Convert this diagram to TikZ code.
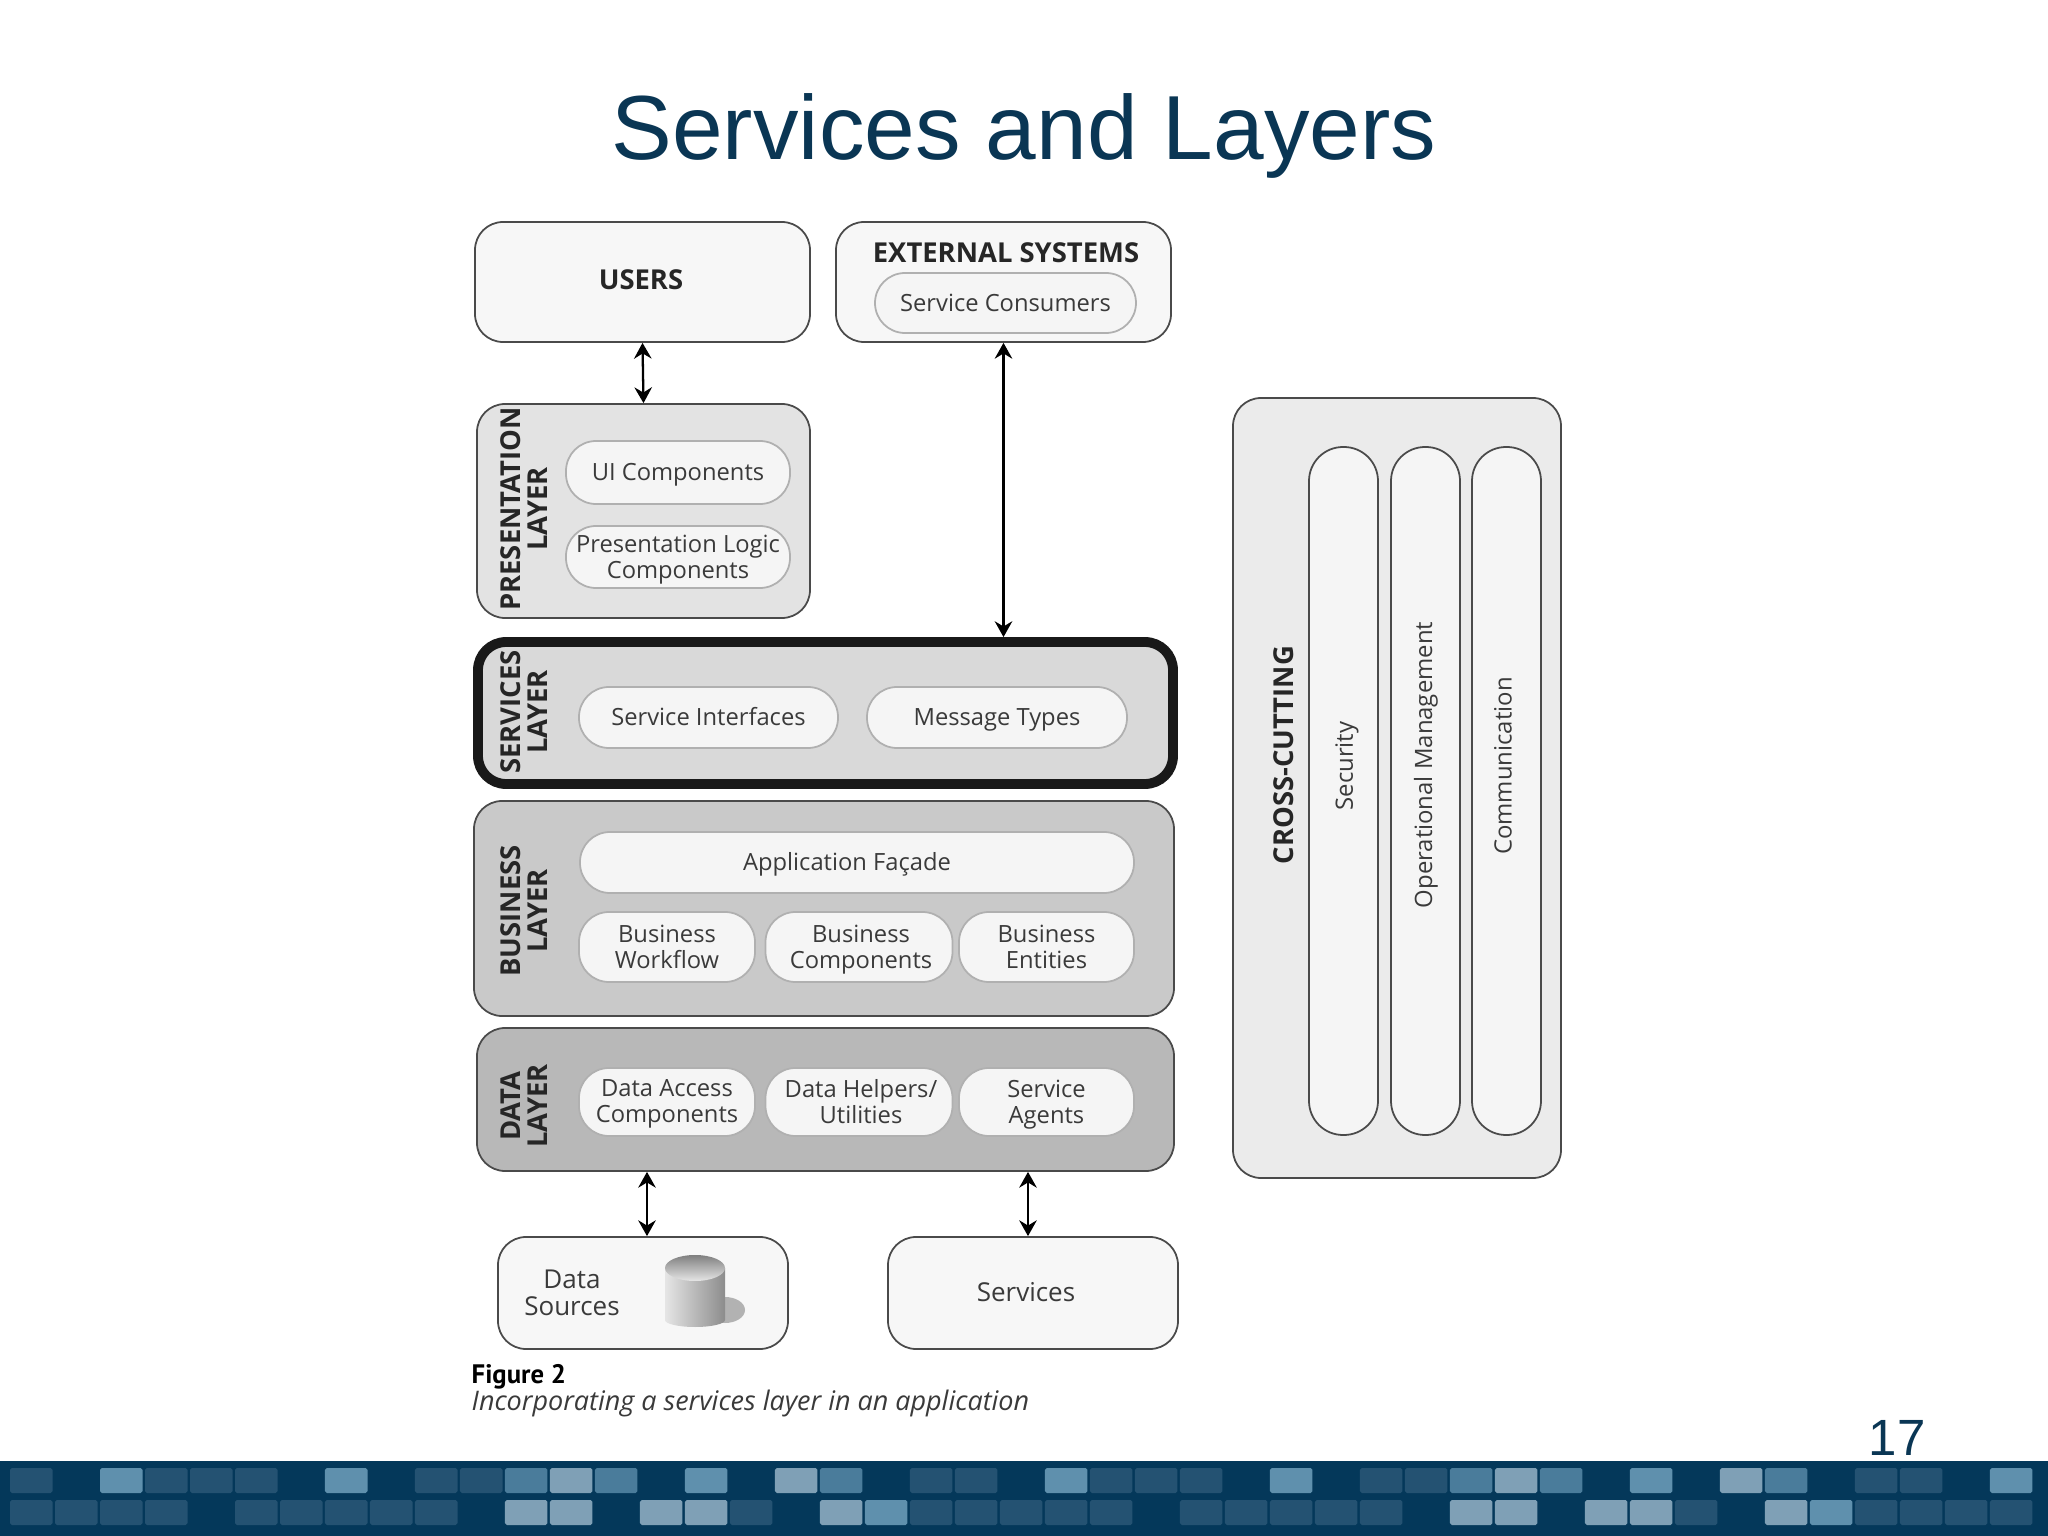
\documentclass[tikz,border=0pt]{standalone}
\usepackage{fontspec}
\setmainfont{Open Sans}
\newfontfamily\slidefont{Liberation Sans}
\newfontfamily\capfont{PT Sans}
\usetikzlibrary{arrows.meta, positioning}
\definecolor{slideblue}{HTML}{0A3654}
\definecolor{barblue}{HTML}{04385A}
\definecolor{dimcell}{HTML}{245272}
\definecolor{midcell}{HTML}{4A7C9B}
\definecolor{palecell}{HTML}{5F90AD}
\definecolor{lightcell}{HTML}{7FA0B6}
\definecolor{boxline}{HTML}{4A4A4A}
\definecolor{pillline}{HTML}{B0B0B0}
\definecolor{textgray}{HTML}{3A3A3A}
\newcommand{\pillstrut}{\rule[-1.8pt]{0pt}{8.3pt}}
\tikzset{
  layerbox/.style={rectangle, rounded corners=0.28cm, draw=boxline, line width=0.5pt, inner sep=0pt},
  pill/.style={rectangle, rounded corners=0.3cm, draw=pillline, line width=0.5pt, fill=white!96!black, inner sep=0pt, align=center, text=textgray, font=\fontsize{6.75}{7.4}\selectfont, execute at begin node=\pillstrut, execute at end node=\pillstrut},
  pillpair/.style={align=center, inner sep=0pt, text=textgray, font=\fontsize{6.75}{7.4}\selectfont, yshift=-0.026cm, execute at end node=\rule[-1.8pt]{0pt}{0pt}},
  sidepill/.style={rectangle, rounded corners=0.34cm, draw=boxline, line width=0.5pt, fill=white!96!black, minimum width=0.69cm, minimum height=6.88cm},
  boxlabel/.style={align=center, inner sep=0pt, text=black!85, font=\fontsize{7.8}{7.6}\selectfont\bfseries},
  layerlabel/.style={boxlabel, rotate=90},
  sidelabel/.style={rotate=90, inner sep=0pt, text=textgray, font=\fontsize{6.8}{7}\selectfont},
  plainlabel/.style={align=center, inner sep=0pt, text=textgray, font=\fontsize{7.4}{7.6}\selectfont},
  linkarrow/.style={{Stealth[length=4.5pt,width=5pt,inset=1.5pt]}-{Stealth[length=4.5pt,width=5pt,inset=1.5pt]}, line width=0.65pt}
}

\begin{document}
\begin{tikzpicture}
\useasboundingbox (0,0) rectangle (20.48,-15.36);
\fill[white] (0,0) rectangle (20.48,-15.36);

% Title
\node[font=\slidefont\fontsize{25.9}{30}\selectfont, text=slideblue, inner sep=0pt] (title) at (10.24,-1.36) {Services and Layers};

% Top boxes
\node[layerbox, fill=white!97!black, minimum width=3.35cm, minimum height=1.2cm] (users) at (6.425,-2.82) {};
\node[boxlabel] (userstext) at (6.41,-2.80) {USERS};
\node[layerbox, fill=white!97!black, minimum width=3.35cm, minimum height=1.2cm] (external) at (10.035,-2.82) {};
\node[boxlabel] (externaltext) at (10.06,-2.53) {EXTERNAL SYSTEMS};
\node[pill, minimum width=2.61cm, minimum height=0.6cm] (consumers) at (10.055,-3.03) {Service Consumers};

% Presentation layer
\node[layerbox, fill=black!11, minimum width=3.33cm, minimum height=2.14cm] (presentation) at (6.435,-5.11) {};
\node[layerlabel] (presentationtext) at (5.24,-5.09) {PRESENTATION\\LAYER};
\node[pill, minimum width=2.24cm, minimum height=0.63cm] (uicomp) at (6.78,-4.725) {UI Components};
\node[pill, minimum width=2.24cm, minimum height=0.62cm] (logiccomp) at (6.78,-5.57) {};
\node[pillpair] (logictext) at (logiccomp) {Presentation Logic\\Components};

% Services layer
\node[layerbox, fill=black!15, draw=black!90, line width=2.8pt, minimum width=6.95cm, minimum height=1.42cm] (services) at (8.255,-7.13) {};
\node[layerlabel] (servicestext) at (5.24,-7.12) {SERVICES\\LAYER};
\node[pill, minimum width=2.59cm, minimum height=0.61cm] (interfaces) at (7.085,-7.175) {Service Interfaces};
\node[pill, minimum width=2.6cm, minimum height=0.61cm] (messages) at (9.97,-7.175) {Message Types};

% Business layer
\node[layerbox, fill=black!21, minimum width=7cm, minimum height=2.15cm] (business) at (8.24,-9.085) {};
\node[layerlabel] (businesstext) at (5.24,-9.11) {BUSINESS\\LAYER};
\node[pill, minimum width=5.54cm, minimum height=0.61cm] (facade) at (8.57,-8.625) {Application Façade\hspace*{0.2cm}};
\node[pill, minimum width=1.76cm, minimum height=0.7cm] (workflow) at (6.67,-9.47) {};
\node[pillpair] (workflowtext) at (workflow) {Business\\Workflow};
\node[pill, minimum width=1.87cm, minimum height=0.7cm] (bizcomp) at (8.59,-9.47) {};
\node[pillpair, xshift=0.02cm] (bizcomptext) at (bizcomp) {Business\\Components};
\node[pill, minimum width=1.75cm, minimum height=0.7cm] (entities) at (10.465,-9.47) {};
\node[pillpair] (entitiestext) at (entities) {Business\\Entities};

% Data layer
\node[layerbox, fill=black!28, minimum width=6.97cm, minimum height=1.43cm] (data) at (8.255,-10.995) {};
\node[layerlabel] (datatext) at (5.24,-11.06) {DATA\\LAYER};
\node[pill, minimum width=1.76cm, minimum height=0.68cm] (access) at (6.67,-11.02) {};
\node[pillpair] (accesstext) at (access) {Data Access\\Components};
\node[pill, minimum width=1.87cm, minimum height=0.68cm] (helpers) at (8.59,-11.02) {};
\node[pillpair, xshift=0.02cm] (helperstext) at (helpers) {Data Helpers/\\Utilities};
\node[pill, minimum width=1.75cm, minimum height=0.68cm] (agents) at (10.465,-11.02) {};
\node[pillpair] (agentstext) at (agents) {Service\\Agents};

% Bottom boxes
\node[layerbox, fill=white!97!black, minimum width=2.9cm, minimum height=1.12cm] (sources) at (6.43,-12.93) {};
\node[plainlabel] (sourcestext) at (5.72,-12.93) {Data\\Sources};
\node[layerbox, fill=white!97!black, minimum width=2.9cm, minimum height=1.12cm] (outerservices) at (10.33,-12.93) {};
\node[plainlabel] (outertext) at (10.26,-12.92) {Services};

% Database drum
\fill[black!30] (7.25,-13.1) ellipse (0.2 and 0.13);
\shade[left color=white!90!black, middle color=black!15, right color=black!45] (6.65,-12.68) -- (6.65,-13.2) arc (180:360:0.3 and 0.07) -- (7.25,-12.68) -- cycle;
\shade[top color=black!50, bottom color=white!90!black] (6.95,-12.68) ellipse (0.3 and 0.13);

% Cross-cutting
\node[layerbox, fill=black!8, minimum width=3.28cm, minimum height=7.8cm] (crosscutting) at (13.97,-7.88) {};
\node[layerlabel] (crosstext) at (12.84,-7.55) {CROSS-CUTTING};
\node[sidepill] (security) at (13.435,-7.91) {};
\node[sidepill] (operational) at (14.255,-7.91) {};
\node[sidepill] (communication) at (15.065,-7.91) {};
\node[sidelabel] (securitytext) at (13.47,-7.66) {Security};
\node[sidelabel] (operationaltext) at (14.26,-7.65) {Operational Management};
\node[sidelabel] (communicationtext) at (15.03,-7.66) {Communication};

% Arrows
\draw[linkarrow] (users.south) -- (presentation.north);
\draw[linkarrow] (external.south) -- (external.south |- services.north);
\draw[linkarrow] ([xshift=0.04cm]sources.north) -- ([xshift=0.04cm]sources.north |- data.south);
\draw[linkarrow] ([xshift=-0.05cm]outerservices.north) -- ([xshift=-0.05cm]outerservices.north |- data.south);

% Caption
\node[anchor=west, inner sep=0pt, font=\capfont\fontsize{7.6}{8}\selectfont\bfseries] (figlabel) at (4.71,-13.765) {Figure 2};
\node[anchor=west, inner sep=0pt, text=textgray, font=\fontsize{7.67}{8}\selectfont\itshape] (figcaption) at (4.71,-14.035) {Incorporating a services layer in an application};

% Page number
\node[font=\slidefont\fontsize{14.5}{18}\selectfont, text=slideblue, inner sep=0pt] (pagenum) at (18.97,-14.38) {17};

% Footer band
\fill[barblue] (0,-14.61) rectangle (20.48,-15.36);
\foreach \k in {0,1,2}{
  \foreach \i/\c in {0/dimcell,2/palecell,3/dimcell,4/dimcell,5/dimcell,7/palecell,9/dimcell,10/dimcell,11/midcell,12/lightcell,13/midcell,15/palecell,17/lightcell,18/midcell,20/dimcell}{
    \pgfmathtruncatemacro{\n}{\i+21*\k}
    \ifnum\n<45 \fill[\c, rounded corners=0.5pt] ({0.10+0.45*\n},-14.68) rectangle +(0.425,-0.25); \fi
  }
  \foreach \i/\c in {0/dimcell,1/dimcell,2/dimcell,3/dimcell,5/dimcell,6/dimcell,7/dimcell,8/dimcell,9/dimcell,11/lightcell,12/lightcell,14/lightcell,15/lightcell,16/dimcell,18/lightcell,19/palecell,20/dimcell}{
    \pgfmathtruncatemacro{\n}{\i+21*\k}
    \ifnum\n<45 \fill[\c, rounded corners=0.5pt] ({0.10+0.45*\n},-15.00) rectangle +(0.425,-0.25); \fi
  }
}
\end{tikzpicture}
\end{document}
